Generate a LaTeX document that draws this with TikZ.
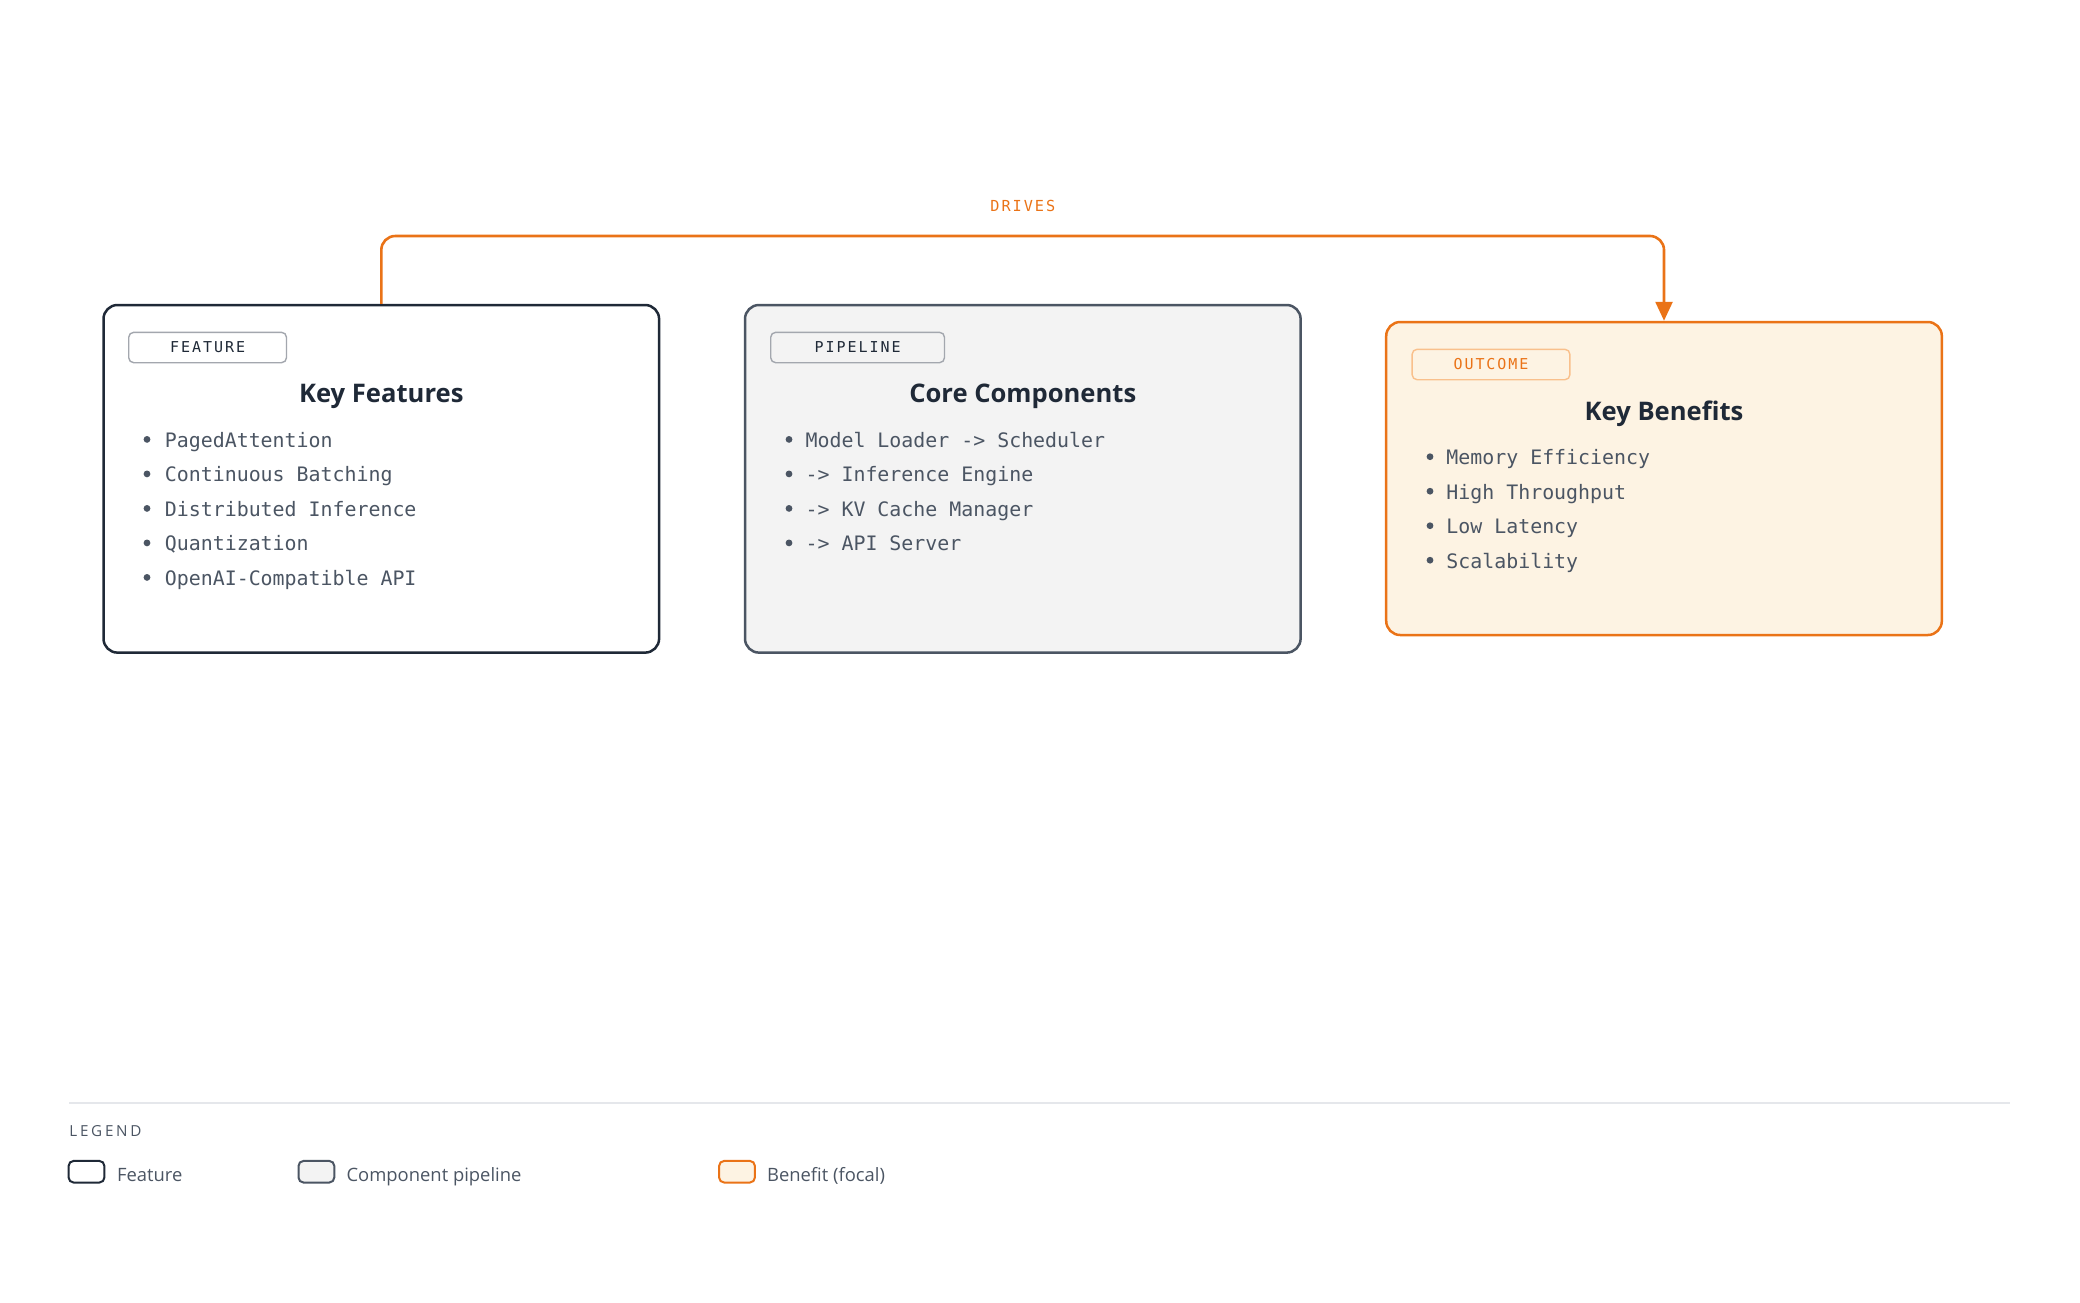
\documentclass[tikz,border=0pt]{standalone}
\usepackage{fontspec}
\setmainfont{Open Sans}
\newfontfamily\monof{DejaVu Sans Mono}
\newfontfamily\tagf[LetterSpace=13]{DejaVu Sans Mono}
\newfontfamily\legf[LetterSpace=18]{Open Sans}
\usetikzlibrary{arrows.meta}
\definecolor{navy}{HTML}{1F2937}
\definecolor{slate}{HTML}{4B5563}
\definecolor{greyfill}{HTML}{F3F3F3}
\definecolor{orng}{HTML}{EA7317}
\definecolor{cream}{HTML}{FDF3E3}
\definecolor{tagline}{HTML}{A3A7AE}
\definecolor{otagline}{HTML}{F9C08C}
\definecolor{rulegrey}{HTML}{E5E7EB}
\tikzset{
  card/.style={rounded corners=7pt, line width=1.25pt, minimum width=277.8pt, inner sep=0pt},
  featbox/.style={card, draw=navy, fill=white, minimum height=173.8pt},
  pipebox/.style={card, draw=slate, fill=greyfill, minimum height=173.8pt},
  benebox/.style={card, draw=orng, fill=cream, minimum height=156.5pt},
  tagbox/.style={rounded corners=2.5pt, line width=0.7pt, draw=tagline, minimum height=15.2pt, inner sep=0pt, font=\tagf\fontsize{7.5}{9}\selectfont, text=navy},
  title/.style={anchor=base, inner sep=0pt, font=\bfseries\fontsize{12.8}{15}\selectfont, text=navy},
  item/.style={anchor=base west, inner sep=0pt, font=\monof\fontsize{9.95}{12}\selectfont, text=slate},
  dot/.style={circle, fill=slate, inner sep=0pt, minimum size=3.4pt},
  swatch/.style={rounded corners=2.5pt, line width=1pt, minimum width=17.9pt, minimum height=10.8pt, inner sep=0pt},
  legtext/.style={anchor=base west, inner sep=0pt, font=\fontsize{9.2}{12}\selectfont, text=slate},
  flow/.style={draw=orng, line width=1.3pt, rounded corners=7pt, -{Triangle[length=9.5pt,width=8.5pt]}},
}
\begin{document}
\begin{tikzpicture}[x=0.5pt,y=-0.5pt]
\useasboundingbox (0,0) rectangle (2080,1302);
% cards
\node[featbox] (b1) at (381.3,478.8) {};
\node[pipebox] (b2) at (1022.8,478.8) {};
\node[benebox] (b3) at (1664,478.5) {};
% tags
\node[tagbox, minimum width=78.9pt] (t1) at (207.6,347.5) {FEATURE};
\node[tagbox, minimum width=86.9pt] (t2) at (857.6,347.5) {PIPELINE};
\node[tagbox, minimum width=78.9pt, draw=otagline, text=orng] (t3) at (1491,364.5) {OUTCOME};
% titles
\node[title] (h1) at (381.3,402.7) {Key Features};
\node[title] (h2) at (1022.8,402.7) {Core Components};
\node[title] (h3) at (1664,420) {Key Benefits};
% items card 1
\foreach \t [count=\i] in {PagedAttention,Continuous Batching,Distributed Inference,Quantization,OpenAI-Compatible API}{
  \node[dot] (d1\i) at (147,404.9+34.5*\i) {};
  \node[item] (i1\i) at (164.5,412.9+34.5*\i) {\t};
}
% items card 2
\foreach \t [count=\i] in {Model Loader -> Scheduler,-> Inference Engine,-> KV Cache Manager,-> API Server}{
  \node[dot] (d2\i) at (789,404.9+34.5*\i) {};
  \node[item] (i2\i) at (805.2,412.9+34.5*\i) {\t};
}
% items card 3
\foreach \t [count=\i] in {Memory Efficiency,High Throughput,Low Latency,Scalability}{
  \node[dot] (d3\i) at (1430,422.2+34.5*\i) {};
  \node[item] (i3\i) at (1446,430.2+34.5*\i) {\t};
}
% connector
\coordinate (apex) at (1664,236);
\draw[flow] (b1.north) |- (apex) -- (b3.north);
\node[font=\tagf\fontsize{7.6}{9}\selectfont, text=orng] (lbl) at (1022.8,206) {DRIVES};
% legend
\coordinate (rl) at (69,1103);
\coordinate (rr) at (2010,1103);
\draw[rulegrey, line width=0.8pt] (rl) -- (rr);
\node[anchor=base west, inner sep=0pt, font=\legf\fontsize{7.6}{10}\selectfont, text=slate] (leg) at (69,1136.7) {LEGEND};
\node[swatch, draw=navy, fill=white] (s1) at (86.5,1171.7) {};
\node[legtext] (l1) at (116.7,1181.5) {Feature};
\node[swatch, draw=slate, fill=greyfill] (s2) at (316.4,1171.7) {};
\node[legtext] (l2) at (346.2,1181.5) {Component pipeline};
\node[swatch, draw=orng, fill=cream] (s3) at (737,1171.7) {};
\node[legtext] (l3) at (766.7,1181.5) {Benefit (focal)};
\end{tikzpicture}
\end{document}
